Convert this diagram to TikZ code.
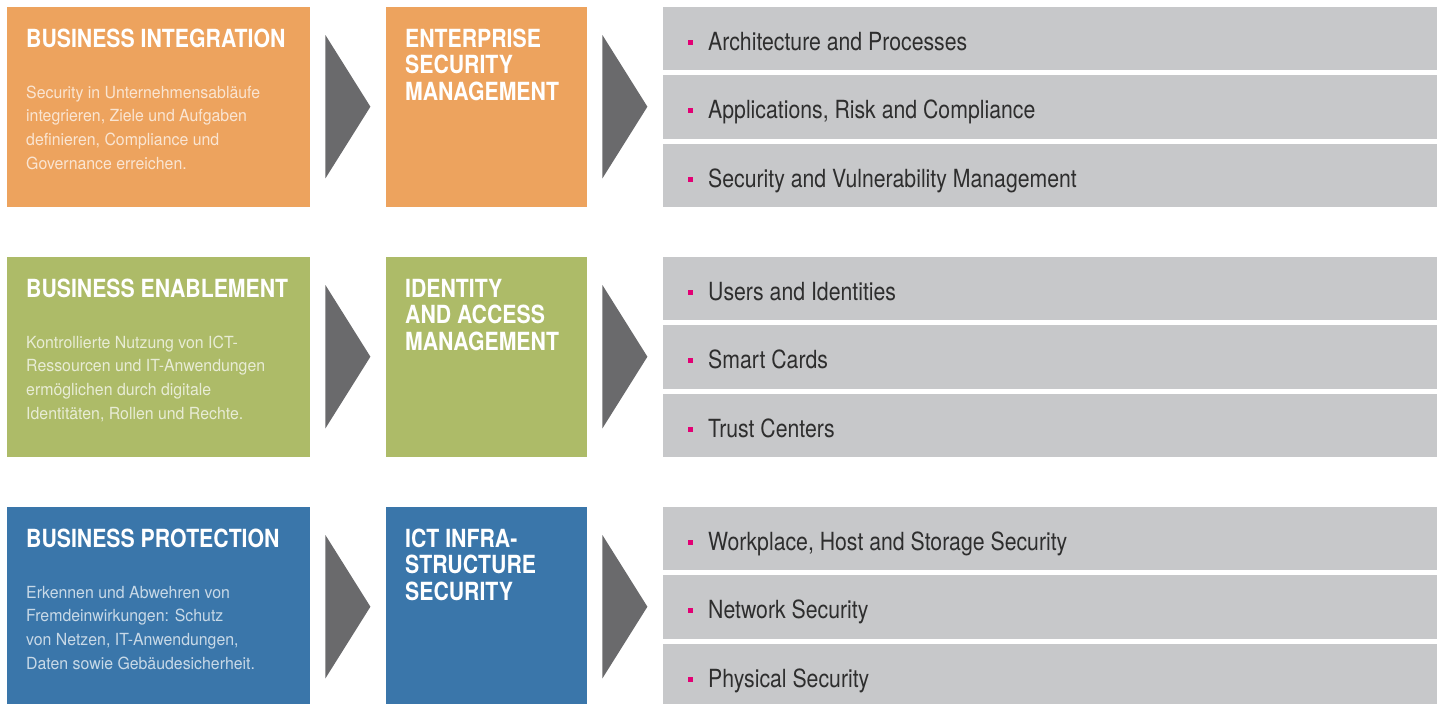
\documentclass[tikz,border=0pt]{standalone}
\usepackage{fontspec}
\setmainfont{TeX Gyre Heros}[FakeStretch=0.85]
\newfontfamily\descfont{TeX Gyre Heros}[FakeStretch=0.95]
\usetikzlibrary{calc}

\definecolor{orangebox}{HTML}{EDA35E}
\definecolor{greenbox}{HTML}{ADBB68}
\definecolor{bluebox}{HTML}{3A76AA}
\definecolor{barfill}{HTML}{C7C8CA}
\definecolor{chevfill}{HTML}{6A6A6C}
\definecolor{tmagenta}{HTML}{E20074}
\definecolor{itemtext}{HTML}{2E2E2E}

\begin{document}
\begin{tikzpicture}[x=1pt, y=-1pt,
        block/.style={anchor=north west, inner sep=0pt, minimum height=200pt},
        head/.style={anchor=base west, inner sep=0pt, align=left, text=white,
            font=\bfseries\fontsize{25}{26.5}\selectfont},
        desc/.style={anchor=base west, inner sep=0pt, align=left,
            font=\descfont\fontsize{16.7}{23.7}\selectfont},
        chevron/.style={fill=chevfill},
        bar/.style={anchor=north west, inner sep=0pt, fill=barfill,
            minimum width=774pt, minimum height=63.5pt},
        item/.style={anchor=base west, inner sep=0pt, text=itemtext,
            font=\fontsize{25}{28}\selectfont},
        dot/.style={fill=tmagenta, inner sep=0pt, minimum size=5pt}]
    \useasboundingbox (0,0) rectangle (1443,704);

    % base of a multi-line node is its last line: 4 lines of 23.7, 3 lines of 26.5
    \foreach \r/\col/\title/\text/\unit/\itA/\itB/\itC in {
        0/orangebox/{BUSINESS INTEGRATION}/{Security in Unternehmensabläufe\\integrieren, Ziele und Aufgaben\\definieren, Compliance und\\Governance erreichen.}/{ENTERPRISE\\SECURITY\\MANAGEMENT}/{Architecture and Processes}/{Applications, Risk and Compliance}/{Security and Vulnerability Management},
        1/greenbox/{BUSINESS ENABLEMENT}/{Kontrollierte Nutzung von ICT-\\Ressourcen und IT-Anwendungen\\ermöglichen durch digitale\\Identitäten, Rollen und Rechte.}/{IDENTITY\\AND ACCESS\\MANAGEMENT}/{Users and Identities}/{Smart Cards}/{Trust Centers},
        2/bluebox/{BUSINESS PROTECTION}/{Erkennen und Abwehren von\\Fremdeinwirkungen: Schutz\\von Netzen, IT-Anwendungen,\\Daten sowie Gebäudesicherheit.}/{ICT INFRA-\\STRUCTURE\\SECURITY}/{Workplace, Host and Storage Security}/{Network Security}/{Physical Security}}
    {
        \pgfmathsetmacro{\t}{6.5+250*\r}

        % business area
        \node[block, fill=\col, minimum width=303pt] (lbox\r) at (7,\t) {};
        \node[head] (ltitle\r) at ($(lbox\r.north west)+(19,40.5)$) {\title};
        \node[desc, text=white!72!\col] (ldesc\r) at ($(lbox\r.north west)+(19,162.6)$) {\text};

        % security unit
        \node[block, fill=\col, minimum width=201pt] (mbox\r) at (386,\t) {};
        \node[head] (mtitle\r) at ($(mbox\r.north west)+(19,93.5)$) {\unit};

        % chevrons
        \fill[chevron] ($(lbox\r.north east)+(15,28.5)$) -- ($(lbox\r.east)+(60,0)$)
            -- ($(lbox\r.south east)+(15,-28.5)$) -- cycle;
        \fill[chevron] ($(mbox\r.north east)+(15,28.5)$) -- ($(mbox\r.east)+(60,0)$)
            -- ($(mbox\r.south east)+(15,-28.5)$) -- cycle;

        % topics
        \foreach \k/\it in {0/\itA, 1/\itB, 2/\itC} {
            \node[bar] (bar\r-\k) at (663,\t+68.5*\k) {};
            \node[dot] (dot\r-\k) at ($(bar\r-\k.north west)+(27,35.5)$) {};
            \node[item] (item\r-\k) at ($(bar\r-\k.north west)+(45,43.5)$) {\it};
        }
    }
\end{tikzpicture}
\end{document}
